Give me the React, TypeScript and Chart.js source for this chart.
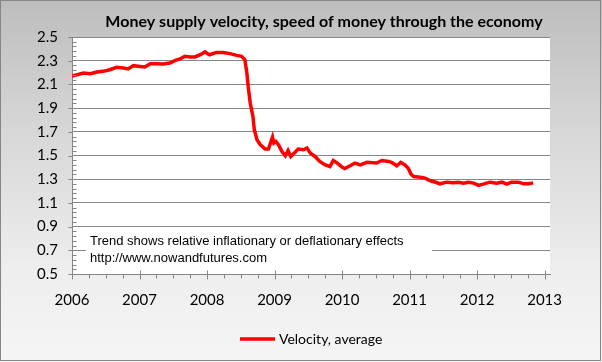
import React, { useEffect, useRef } from "react";
import { Chart, registerables } from "chart.js";

Chart.register(...registerables);

// ---- Data ----
const years: number[] = [
  2006.0, 2006.17, 2006.27, 2006.37, 2006.46, 2006.56, 2006.66, 2006.76, 2006.83, 2006.91,
  2007.01, 2007.08, 2007.16, 2007.25, 2007.35, 2007.45, 2007.53, 2007.6, 2007.67, 2007.75,
  2007.82, 2007.9, 2007.97, 2008.02, 2008.04, 2008.14, 2008.24, 2008.34, 2008.44, 2008.51,
  2008.56, 2008.59, 2008.61, 2008.64, 2008.68, 2008.7, 2008.74, 2008.79, 2008.86, 2008.91,
  2008.94, 2008.97, 2008.99, 2009.02, 2009.06, 2009.11, 2009.16, 2009.2, 2009.24, 2009.3,
  2009.35, 2009.43, 2009.48, 2009.53, 2009.6, 2009.67, 2009.75, 2009.82, 2009.87, 2009.93,
  2010.0, 2010.04, 2010.12, 2010.19, 2010.27, 2010.37, 2010.51, 2010.59, 2010.69, 2010.74,
  2010.81, 2010.87, 2010.93, 2010.98, 2011.02, 2011.06, 2011.16, 2011.23, 2011.3, 2011.4,
  2011.45, 2011.55, 2011.65, 2011.72, 2011.8, 2011.87, 2011.95, 2012.02, 2012.09, 2012.19,
  2012.29, 2012.37, 2012.44, 2012.51, 2012.61, 2012.69, 2012.76, 2012.83,
];
const velocity: number[] = [
  2.17, 2.196, 2.19, 2.205, 2.21, 2.224, 2.244, 2.239, 2.23, 2.258,
  2.252, 2.247, 2.275, 2.275, 2.272, 2.281, 2.303, 2.315, 2.337, 2.332,
  2.332, 2.351, 2.374, 2.355, 2.35, 2.37, 2.37, 2.36, 2.345, 2.337,
  2.31, 2.196, 2.08, 1.943, 1.83, 1.717, 1.633, 1.59, 1.554, 1.554,
  1.605, 1.655, 1.605, 1.618, 1.59, 1.534, 1.497, 1.542, 1.492, 1.525,
  1.554, 1.548, 1.563, 1.52, 1.492, 1.45, 1.421, 1.407, 1.458, 1.436,
  1.402, 1.39, 1.413, 1.436, 1.421, 1.443, 1.436, 1.458, 1.45, 1.44,
  1.413, 1.441, 1.421, 1.393, 1.345, 1.322, 1.317, 1.309, 1.289, 1.272,
  1.261, 1.275, 1.27, 1.275, 1.267, 1.275, 1.267, 1.248, 1.258, 1.275,
  1.267, 1.275, 1.258, 1.275, 1.275, 1.261, 1.261, 1.269,
];
const xTickYears: number[] = [2006, 2007, 2008, 2009, 2010, 2011, 2012, 2013];
const yTickValues: number[] = [0.5, 0.7, 0.9, 1.1, 1.3, 1.5, 1.7, 1.9, 2.1, 2.3, 2.5];
const titleText = "Money supply velocity, speed of money through the economy";
const noteLines: string[] = [
  "Trend shows relative inflationary or deflationary effects",
  "http://www.nowandfutures.com",
];
const seriesLabel = "Velocity, average";

const GRID = "#868686";
const RED = "#ff0000";

const decorPlugin = {
  id: "decor",
  beforeDraw(chart: any) {
    const { ctx, width, height, chartArea } = chart;
    ctx.save();
    const g = ctx.createLinearGradient(0, 0, 0, height);
    g.addColorStop(0, "#bdbdbd");
    g.addColorStop(0.35, "#d6d6d6");
    g.addColorStop(0.75, "#eeeeee");
    g.addColorStop(1, "#f5f5f5");
    ctx.fillStyle = g;
    ctx.fillRect(0, 0, width, height);
    ctx.fillStyle = "#ffffff";
    ctx.fillRect(chartArea.left, chartArea.top, chartArea.right - chartArea.left, chartArea.bottom - chartArea.top);
    ctx.restore();
  },
  afterDraw(chart: any) {
    const { ctx, chartArea, width, height } = chart;
    const xs = chart.scales.x;
    const ys = chart.scales.y;
    ctx.save();
    ctx.strokeStyle = GRID;
    ctx.lineWidth = 1;
    // y minor ticks (inside) and major ticks (outside)
    const yMin = yTickValues[0];
    const yMax = yTickValues[yTickValues.length - 1];
    const ax = Math.round(chartArea.left) + 0.5;
    for (let i = 0; i <= Math.round((yMax - yMin) / 0.04); i++) {
      const v = yMin + i * 0.04;
      const py = Math.round(ys.getPixelForValue(v)) + 0.5;
      const major = i % 5 === 0;
      ctx.beginPath();
      if (major) {
        ctx.moveTo(ax - 4, py);
        ctx.lineTo(ax, py);
      } else {
        ctx.moveTo(ax, py);
        ctx.lineTo(ax + 4, py);
      }
      ctx.stroke();
    }
    // x major (cross) & minor (outside) ticks
    const by = Math.round(chartArea.bottom) + 0.5;
    const x0 = xTickYears[0];
    const x1 = xTickYears[xTickYears.length - 1];
    for (let i = 0; i <= (x1 - x0) * 4; i++) {
      const v = x0 + i * 0.25;
      const px = Math.round(xs.getPixelForValue(v)) + 0.5;
      const major = i % 4 === 0;
      ctx.beginPath();
      if (major) {
        ctx.moveTo(px, by - 4);
        ctx.lineTo(px, by + 5);
      } else {
        ctx.moveTo(px, by);
        ctx.lineTo(px, by + 4);
      }
      ctx.stroke();
    }
    // note box
    ctx.fillStyle = "#ffffff";
    ctx.fillRect(86, 230, 346, 40);
    ctx.fillStyle = "#000000";
    ctx.font = "13px 'Liberation Sans', Arial, sans-serif";
    ctx.textBaseline = "middle";
    ctx.textAlign = "left";
    ctx.fillText(noteLines[0], 90, 241);
    ctx.fillText(noteLines[1], 90, 258);
    // title
    ctx.font = "bold 16px Lato, sans-serif";
    ctx.textAlign = "center";
    ctx.fillStyle = "#000000";
    ctx.fillText(titleText, 324, 22);
    // legend
    ctx.strokeStyle = RED;
    ctx.lineWidth = 3.5;
    ctx.beginPath();
    ctx.moveTo(240, 339);
    ctx.lineTo(275, 339);
    ctx.stroke();
    ctx.font = "14px Lato, sans-serif";
    ctx.textAlign = "left";
    ctx.fillText(seriesLabel, 279, 339);
    // outer border
    ctx.strokeStyle = GRID;
    ctx.lineWidth = 1;
    ctx.strokeRect(0.5, 0.5, width - 2, height - 2);
    ctx.restore();
  },
};

export default function App() {
  const ref = useRef<HTMLCanvasElement | null>(null);
  useEffect(() => {
    if (!ref.current) return;
    const chart = new Chart(ref.current, {
      type: "line",
      data: {
        datasets: [
          {
            label: seriesLabel,
            data: years.map((y, i) => ({ x: y, y: velocity[i] })),
            borderColor: RED,
            backgroundColor: RED,
            borderWidth: 3.5,
            pointRadius: 0,
            tension: 0,
          },
        ],
      },
      options: {
        animation: false,
        responsive: false,
        devicePixelRatio: 1,
        layout: { padding: { top: 37, right: 52, bottom: 48, left: 0 } },
        plugins: {
          legend: { display: false },
          title: { display: false },
          tooltip: { enabled: false },
        },
        scales: {
          x: {
            type: "linear",
            min: 2006,
            max: 2013.08,
            afterBuildTicks: (s: any) => {
              s.ticks = xTickYears.map((v) => ({ value: v }));
            },
            afterFit: (s: any) => {
              s.height = 40;
            },
            grid: { display: false, drawTicks: false },
            border: { display: true, color: GRID, width: 1 },
            ticks: {
              padding: 17,
              color: "#000000",
              font: { family: "Lato", size: 15 },
              maxRotation: 0,
              autoSkip: false,
              callback: (v: any) => String(v),
            },
          },
          y: {
            type: "linear",
            min: 0.5,
            max: 2.5,
            afterBuildTicks: (s: any) => {
              s.ticks = yTickValues.map((v) => ({ value: v }));
            },
            afterFit: (s: any) => {
              s.width = 72;
            },
            grid: { color: GRID, lineWidth: 1, drawTicks: false },
            border: { display: true, color: GRID, width: 1 },
            ticks: {
              padding: 14,
              color: "#000000",
              font: { family: "Lato", size: 15 },
              autoSkip: false,
              callback: (v: any) => Number(v).toFixed(1),
            },
          },
        },
      },
      plugins: [decorPlugin],
    });
    return () => chart.destroy();
  }, []);
  return (
    <div style={{ position: "fixed", left: 0, top: 0, width: 602, height: 362 }}>
      <canvas ref={ref} width={602} height={362} style={{ width: 602, height: 362, display: "block" }} />
    </div>
  );
}
